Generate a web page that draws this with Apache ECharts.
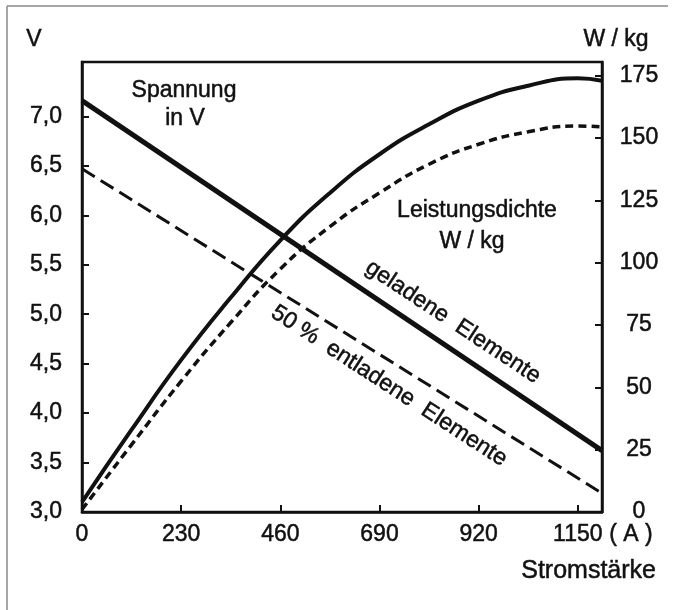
<!DOCTYPE html>
<html>
<head>
<meta charset="utf-8">
<script src="https://cdn.jsdelivr.net/npm/echarts@6/dist/echarts.min.js"></script>
<style>
	html, body { margin: 0; padding: 0; background: #fff; }
	#chart { width: 675px; height: 610px; }
</style>
</head>
<body>
<div id="chart"></div>
<script>
// Stromstärke (A) an den Stützpunkten der Leistungskurven
var currentPoints = [0, 115, 230, 345, 460, 575, 690, 805, 920, 1035, 1150, 1206];
// Leistungsdichte W/kg
var powerCharged = [4, 33, 61, 86, 109, 128, 143.5, 155.5, 165, 171, 174, 173];
var powerHalf = [1, 27, 52.5, 76, 97.5, 114.5, 128, 139.5, 147.5, 152.5, 154.8, 154.5];
// Spannung V (Geraden)
var voltCurrent = [0, 1206];
var voltCharged = [7.16, 3.62];
var voltHalf = [6.47, 3.19];
// Achsenbeschriftung
var xTicks = [0, 230, 460, 690, 920, 1150];
var voltTicks = [3, 3.5, 4, 4.5, 5, 5.5, 6, 6.5, 7];
var powerTicks = [0, 25, 50, 75, 100, 125, 150, 175];

function pairs(xs, ys) {
	var out = [];
	for (var i = 0; i < xs.length; i++) {
		out.push([xs[i], ys[i]]);
	}
	return out;
}

var ink = '#111';
var fontName = 'Liberation Sans';
var fs = 23;

function label(text, x, y, align, rot, size) {
	return {
		type: 'text', x: x, y: y, rotation: (rot || 0) * Math.PI / 180,
		style: {
			text: text, font: (size || fs) + 'px ' + fontName, fill: ink,
			stroke: ink, lineWidth: 0.5,
			textAlign: align || 'center', textVerticalAlign: 'middle'
		}
	};
}

var chart = echarts.init(document.getElementById('chart'));

var axisText = { color: ink, fontSize: fs, fontFamily: fontName, textBorderColor: ink, textBorderWidth: 0.5 };

var option = {
	animation: false,
	backgroundColor: '#fff',
	grid: {
		left: 82, right: 73, top: 62, bottom: 98,
		show: true, borderColor: ink, borderWidth: 2.5
	},
	xAxis: {
		type: 'value',
		min: 0, max: 1206,
		splitLine: { show: false },
		axisLine: { show: true, lineStyle: { color: ink, width: 2.5 } },
		axisTick: { show: true, inside: true, length: 7, customValues: xTicks.slice(1), lineStyle: { color: ink, width: 2 } },
		axisLabel: Object.assign({
			customValues: xTicks, margin: 11,
			formatter: function (v) { return String(v); }
		}, axisText)
	},
	yAxis: [
		{
			type: 'value',
			min: 3, max: 7.55,
			position: 'left',
			splitLine: { show: false },
			axisLine: { show: true, lineStyle: { color: ink, width: 2.5 } },
			axisTick: { show: true, inside: true, length: 7, customValues: voltTicks.slice(1), lineStyle: { color: ink, width: 2 } },
			axisLabel: Object.assign({
				customValues: voltTicks, margin: 20,
				formatter: function (v) { return v.toFixed(1).replace('.', ','); }
			}, axisText)
		},
		{
			type: 'value',
			min: 0, max: 180.5,
			position: 'right',
			splitLine: { show: false },
			axisLine: { show: true, lineStyle: { color: ink, width: 2.5 } },
			axisTick: { show: true, inside: true, length: 7, customValues: powerTicks.slice(1), lineStyle: { color: ink, width: 2 } },
			axisLabel: Object.assign({
				customValues: powerTicks, margin: 37, align: 'center',
				formatter: function (v) { return String(v); }
			}, axisText)
		}
	],
	series: [
		{
			name: 'Spannung geladen', type: 'line', yAxisIndex: 0,
			data: pairs(voltCurrent, voltCharged), showSymbol: false,
			lineStyle: { color: ink, width: 5 }
		},
		{
			name: 'Spannung 50% entladen', type: 'line', yAxisIndex: 0,
			data: pairs(voltCurrent, voltHalf), showSymbol: false,
			lineStyle: { color: ink, width: 3, type: [15, 7] }
		},
		{
			name: 'Leistung geladen', type: 'line', yAxisIndex: 1,
			data: pairs(currentPoints, powerCharged), showSymbol: false,
			smooth: true,
			lineStyle: { color: ink, width: 4 }
		},
		{
			name: 'Leistung 50% entladen', type: 'line', yAxisIndex: 1,
			data: pairs(currentPoints, powerHalf), showSymbol: false,
			smooth: true,
			lineStyle: { color: ink, width: 3.5, type: [8, 5] }
		}
	],
	graphic: [
		{ type: 'line', shape: { x1: 7, y1: 6, x2: 7, y2: 610 }, style: { stroke: '#888', lineWidth: 1.5 } },
		{ type: 'line', shape: { x1: 7, y1: 6, x2: 668, y2: 6 }, style: { stroke: '#888', lineWidth: 1.5 } },
		label('V', 34, 40),
		label('W / kg', 616, 40),
		label('Spannung', 184, 91),
		label('in V', 185, 119),
		label('Leistungsdichte', 477, 211),
		label('W / kg', 472, 242),
		label('geladene  Elemente', 453, 322, 'center', -33.5),
		label('50 %  entladene  Elemente', 389, 386, 'center', -33),
		label('( A )', 631, 535),
		label('Stromstärke', 656, 571, 'right', 0, 25)
	]
};

chart.setOption(option);
</script>
</body>
</html>
